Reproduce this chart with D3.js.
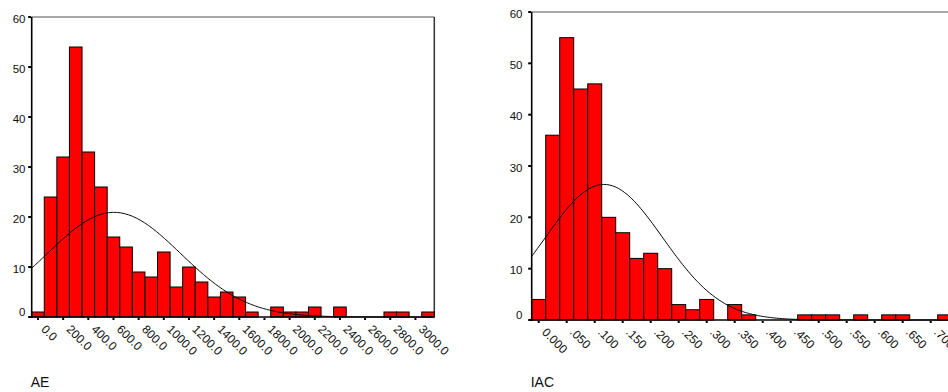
<!DOCTYPE html>
<html><head><meta charset="utf-8">
<script src="https://cdn.jsdelivr.net/npm/d3@7"></script>
<style>
body{margin:0;background:#fff;overflow:hidden}
svg{display:block;font-family:Arial,"Liberation Sans",sans-serif}
</style>
</head><body>
<svg id="chart" width="948" height="392"></svg>
<script>
// ---- AE histogram ----
const aeBinCenters = [0,100,200,300,400,500,600,700,800,900,1000,1100,1200,1300,1400,1500,
  1600,1700,1800,1900,2000,2100,2200,2300,2400,2500,2600,2700,2800,2900,3000,3100];
const aeCounts = [1,24,32,54,33,26,16,14,9,8,13,6,10,7,4,5,
  4,1,0,2,1,1,2,0,2,0,0,0,1,1,0,1];
const aeTicks = [0,200,400,600,800,1000,1200,1400,1600,1800,2000,2200,2400,2600,2800,3000];
const aeTickLabels = ["0.0","200.0","400.0","600.0","800.0","1000.0","1200.0","1400.0","1600.0",
  "1800.0","2000.0","2200.0","2400.0","2600.0","2800.0","3000.0"];
const aeBinWidth = 100;
const aeMean = 604, aeSd = 530;

// ---- IAC histogram ----
const iacBinCenters = [0,.025,.05,.075,.1,.125,.15,.175,.2,.225,.25,.275,.3,.325,.35,.375,
  .4,.425,.45,.475,.5,.525,.55,.575,.6,.625,.65,.675,.7,.725,.75,.775];
const iacCounts = [4,36,55,45,46,20,17,12,13,10,3,2,4,0,3,1,
  0,0,0,1,1,1,0,1,0,1,1,0,0,1,0,0];
const iacTicks = [0,.05,.1,.15,.2,.25,.3,.35,.4,.45,.5,.55,.6,.65,.7];
const iacTickLabels = ["0.000",".050",".100",".150",".200",".250",".300",".350",".400",
  ".450",".500",".550",".600",".650",".700"];
const iacBinWidth = 0.025;
const iacMean = 0.1166, iacSd = 0.105;

const yTicks = [0,10,20,30,40,50,60];

const svg = d3.select("#chart");

function drawHist(cfg){
  const g = svg.append("g");
  const n = d3.sum(cfg.counts);
  const x = d3.scaleLinear()
    .domain([cfg.centers[0]-cfg.bw/2, cfg.centers[cfg.centers.length-1]+cfg.bw/2])
    .range([cfg.left, cfg.right]);
  const y = d3.scaleLinear().domain([0,60]).range([cfg.bottom, cfg.top]);

  // box top & right
  g.append("line").attr("x1",cfg.left).attr("x2",cfg.right).attr("y1",cfg.top).attr("y2",cfg.top)
    .attr("stroke","#8a8a8a").attr("stroke-width",1.3);
  g.append("line").attr("x1",cfg.right).attr("x2",cfg.right).attr("y1",cfg.top).attr("y2",cfg.bottom)
    .attr("stroke","#333").attr("stroke-width",1.5);

  // bars
  g.selectAll("rect.bar").data(cfg.centers.map((c,i)=>({c, v:cfg.counts[i]})).filter(d=>d.v>0))
    .enter().append("rect").attr("class","bar")
    .attr("x", d=>x(d.c-cfg.bw/2))
    .attr("width", d=>x(d.c+cfg.bw/2)-x(d.c-cfg.bw/2))
    .attr("y", d=>y(d.v))
    .attr("height", d=>y(0)-y(d.v))
    .attr("fill","#ff0000").attr("stroke","#000").attr("stroke-width",1);

  // normal curve
  const dom = x.domain();
  const pts = d3.range(0,301).map(i=>dom[0]+(dom[1]-dom[0])*i/300);
  const pdf = v => n*cfg.bw/(cfg.sd*Math.sqrt(2*Math.PI))*Math.exp(-((v-cfg.mean)**2)/(2*cfg.sd*cfg.sd));
  g.append("path").datum(pts)
    .attr("d", d3.line().x(v=>x(v)).y(v=>y(pdf(v))).curve(d3.curveLinear))
    .attr("fill","none").attr("stroke","#000").attr("stroke-width",1);

  // y axis
  g.append("line").attr("x1",cfg.left).attr("x2",cfg.left).attr("y1",cfg.top).attr("y2",cfg.bottom+1)
    .attr("stroke","#000").attr("stroke-width",1.6);
  g.selectAll("rect.yt").data(yTicks).enter().append("rect").attr("class","yt")
    .attr("x",cfg.left-3.5).attr("y",d=>y(d)-1).attr("width",3).attr("height",2).attr("fill","#000");
  g.selectAll("text.yl").data(yTicks).enter().append("text").attr("class","yl")
    .attr("x",cfg.ylabX).attr("y",d=> d===0 ? y(d)-1.5 : y(d)+5.5)
    .attr("text-anchor","end").attr("font-size",11.5).attr("fill","#111")
    .text(d=>d);

  // x axis
  g.append("line").attr("x1",cfg.left-2).attr("x2",cfg.right).attr("y1",cfg.bottom).attr("y2",cfg.bottom)
    .attr("stroke","#000").attr("stroke-width",1.6);
  g.selectAll("rect.xt").data(cfg.ticks).enter().append("rect").attr("class","xt")
    .attr("x",d=>x(d)-1).attr("y",cfg.bottom+1).attr("width",2).attr("height",2).attr("fill","#000");
  g.selectAll("text.xl").data(cfg.ticks).enter().append("text").attr("class","xl")
    .attr("transform",d=>`translate(${x(d)+2.5},${cfg.bottom+13}) rotate(45)`)
    .attr("font-size",12).attr("fill","#111")
    .text((d,i)=>cfg.labels[i]);

  // title
  g.append("text").attr("x",cfg.left-1).attr("y",387).attr("font-size",14).attr("fill","#111").text(cfg.title);
}

drawHist({centers:aeBinCenters, counts:aeCounts, bw:aeBinWidth, mean:aeMean, sd:aeSd,
  ticks:aeTicks, labels:aeTickLabels, left:31.7, right:434.3, top:17, bottom:317, ylabX:25.5, title:"AE"});
drawHist({centers:iacBinCenters, counts:iacCounts, bw:iacBinWidth, mean:iacMean, sd:iacSd,
  ticks:iacTicks, labels:iacTickLabels, left:531.7, right:979.7, top:12, bottom:320, ylabX:522.5, title:"IAC"});
</script>
</body></html>
